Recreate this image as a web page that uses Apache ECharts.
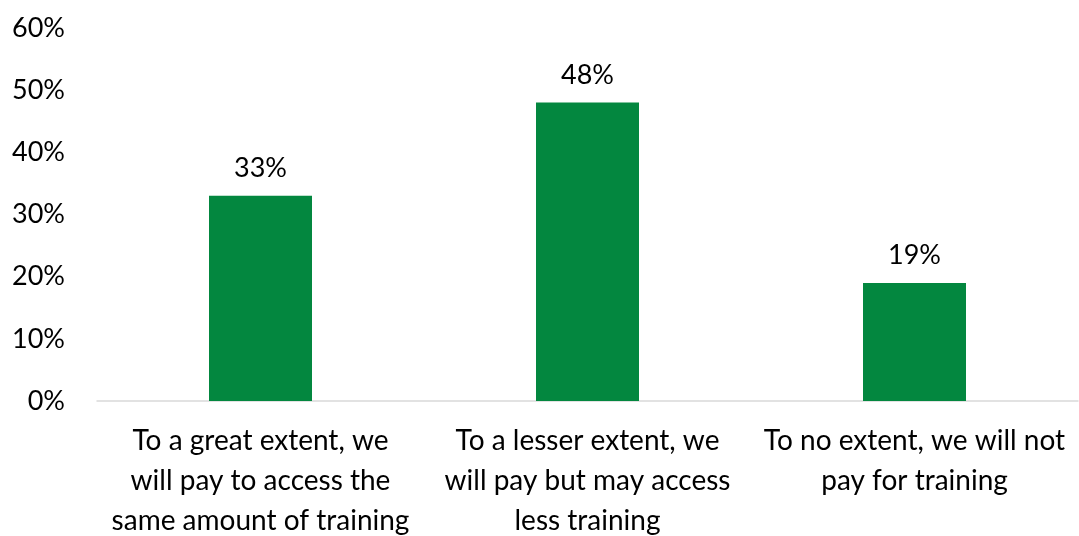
<!DOCTYPE html>
<html>
<head>
<meta charset="utf-8">
<script src="https://cdn.jsdelivr.net/npm/echarts@6/dist/echarts.min.js"></script>
<style>
  html, body { margin: 0; padding: 0; background: #ffffff; }
  #chart { width: 1079px; height: 536px; }
</style>
</head>
<body>
<div id="chart"></div>
<script>
// Survey responses: willingness to pay for training
const categories = [
  'To a great extent, we\nwill pay to access the\nsame amount of training',
  'To a lesser extent, we\nwill pay but may access\nless training',
  'To no extent, we will not\npay for training'
];
const shares = [33, 48, 19];
const yTicks = [0, 10, 20, 30, 40, 50, 60];

const FONT = 'Lato, "Open Sans", sans-serif';
const chart = echarts.init(document.getElementById('chart'));
chart.setOption({
  animation: false,
  textStyle: { fontFamily: FONT },
  grid: {
    left: 97, right: 1, top: 28, bottom: 135,
    containLabel: false,
    outerBoundsMode: 'none'
  },
  xAxis: {
    type: 'category',
    data: categories,
    axisLine: { lineStyle: { color: '#d9d9d9', width: 1.5 } },
    axisTick: { show: false },
    axisLabel: {
      color: '#000000',
      fontSize: 28,
      fontFamily: FONT,
      lineHeight: 40,
      margin: 20,
      interval: 0
    }
  },
  yAxis: {
    type: 'value',
    min: yTicks[0],
    max: yTicks[yTicks.length - 1],
    interval: 10,
    splitLine: { show: false },
    axisLine: { show: false },
    axisTick: { show: false },
    axisLabel: {
      color: '#000000',
      fontSize: 27,
      fontFamily: FONT,
      margin: 32,
      formatter: v => v + '%'
    }
  },
  series: [{
    type: 'bar',
    data: shares,
    barWidth: 103,
    itemStyle: { color: '#03873f' },
    label: {
      show: true,
      position: 'top',
      distance: 14,
      color: '#000000',
      fontSize: 27,
      fontFamily: FONT,
      formatter: p => p.value + '%'
    }
  }]
});
</script>
</body>
</html>
